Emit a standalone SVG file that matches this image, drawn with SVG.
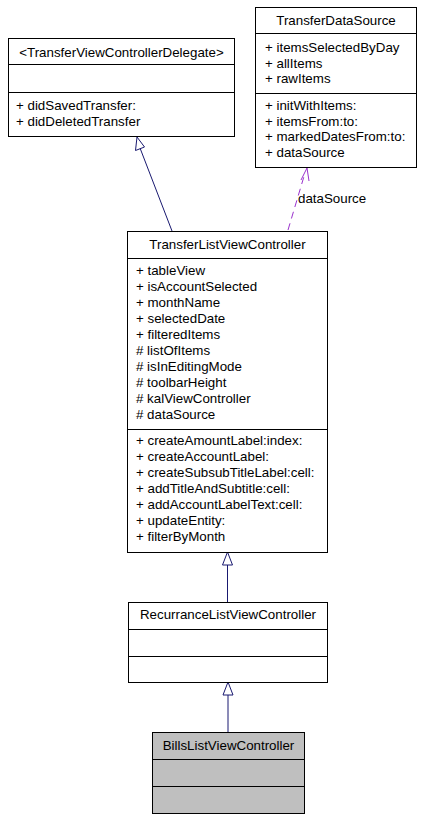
<svg xmlns="http://www.w3.org/2000/svg" width="423" height="820" viewBox="0 0 423 820">
<style>
text{font-family:"Liberation Sans",Arial,sans-serif;font-size:13.33px;fill:#000}
.c{text-anchor:middle}
.box{fill:#fff;stroke:#000;stroke-width:1}
.gray{fill:#bfbfbf;stroke:#000;stroke-width:1}
.sep{stroke:#000;stroke-width:1}
.inh{stroke:#191970;stroke-width:1;fill:none}
.tri{stroke:#191970;stroke-width:1;fill:#fff}
.use{stroke:#9a32cd;stroke-width:1;fill:none;stroke-dasharray:7,5}
.usehead{stroke:#9a32cd;stroke-width:1;fill:none}
</style>
<rect width="423" height="820" fill="#fff"/>
<g id="edges">
<path class="inh" d="M172,231 L140,148"/>
<polygon class="tri" points="137,137 135.5,150.5 144.5,147"/>
<path class="inh" d="M227.5,602 L227.5,565"/>
<polygon class="tri" points="227.5,552 222.5,565 232.5,565"/>
<path class="inh" d="M228,732 L228,695"/>
<polygon class="tri" points="228,682 223,695 233,695"/>
<path class="use" d="M288,230 L305,173"/>
<path class="usehead" d="M301,180 L307,168 L309,181"/>
<text x="298" y="203">dataSource</text>
</g>
<g id="TransferViewControllerDelegate">
<rect class="box" x="8.5" y="38.5" width="226" height="98"/>
<line class="sep" x1="8.5" y1="64.5" x2="234.5" y2="64.5"/>
<line class="sep" x1="8.5" y1="92.5" x2="234.5" y2="92.5"/>
<text class="c" x="121.5" y="57">&lt;TransferViewControllerDelegate&gt;</text>
<text x="16" y="110">+ didSavedTransfer:</text>
<text x="16" y="126">+ didDeletedTransfer</text>
</g>
<g id="TransferDataSource">
<rect class="box" x="255.5" y="7.5" width="161" height="160"/>
<line class="sep" x1="255.5" y1="33.5" x2="416.5" y2="33.5"/>
<line class="sep" x1="255.5" y1="93.5" x2="416.5" y2="93.5"/>
<text class="c" x="336" y="25">TransferDataSource</text>
<text x="265" y="52">+ itemsSelectedByDay</text>
<text x="265" y="67.7">+ allItems</text>
<text x="265" y="83.4">+ rawItems</text>
<text x="265" y="110">+ initWithItems:</text>
<text x="265" y="125.7">+ itemsFrom:to:</text>
<text x="265" y="141.4">+ markedDatesFrom:to:</text>
<text x="265" y="157">+ dataSource</text>
</g>
<g id="TransferListViewController">
<rect class="box" x="127.5" y="231.5" width="200" height="321"/>
<line class="sep" x1="127.5" y1="258.5" x2="327.5" y2="258.5"/>
<line class="sep" x1="127.5" y1="429.5" x2="327.5" y2="429.5"/>
<text class="c" x="227.5" y="249">TransferListViewController</text>
<text x="136" y="275">+ tableView</text>
<text x="136" y="291">+ isAccountSelected</text>
<text x="136" y="307">+ monthName</text>
<text x="136" y="323">+ selectedDate</text>
<text x="136" y="339">+ filteredItems</text>
<text x="136" y="355"># listOfItems</text>
<text x="136" y="371"># isInEditingMode</text>
<text x="136" y="387"># toolbarHeight</text>
<text x="136" y="403"># kalViewController</text>
<text x="136" y="419"># dataSource</text>
<text x="136" y="445">+ createAmountLabel:index:</text>
<text x="136" y="461">+ createAccountLabel:</text>
<text x="136" y="477">+ createSubsubTitleLabel:cell:</text>
<text x="136" y="493">+ addTitleAndSubtitle:cell:</text>
<text x="136" y="509">+ addAccountLabelText:cell:</text>
<text x="136" y="525">+ updateEntity:</text>
<text x="136" y="541">+ filterByMonth</text>
</g>
<g id="RecurranceListViewController">
<rect class="box" x="128.5" y="602.5" width="199" height="80"/>
<line class="sep" x1="128.5" y1="629.5" x2="327.5" y2="629.5"/>
<line class="sep" x1="128.5" y1="656.5" x2="327.5" y2="656.5"/>
<text class="c" x="228" y="619">RecurranceListViewController</text>
</g>
<g id="BillsListViewController">
<rect class="gray" x="152.5" y="732.5" width="152" height="81"/>
<line class="sep" x1="152.5" y1="759.5" x2="304.5" y2="759.5"/>
<line class="sep" x1="152.5" y1="786.5" x2="304.5" y2="786.5"/>
<text class="c" x="228.5" y="750">BillsListViewController</text>
</g>
</svg>
